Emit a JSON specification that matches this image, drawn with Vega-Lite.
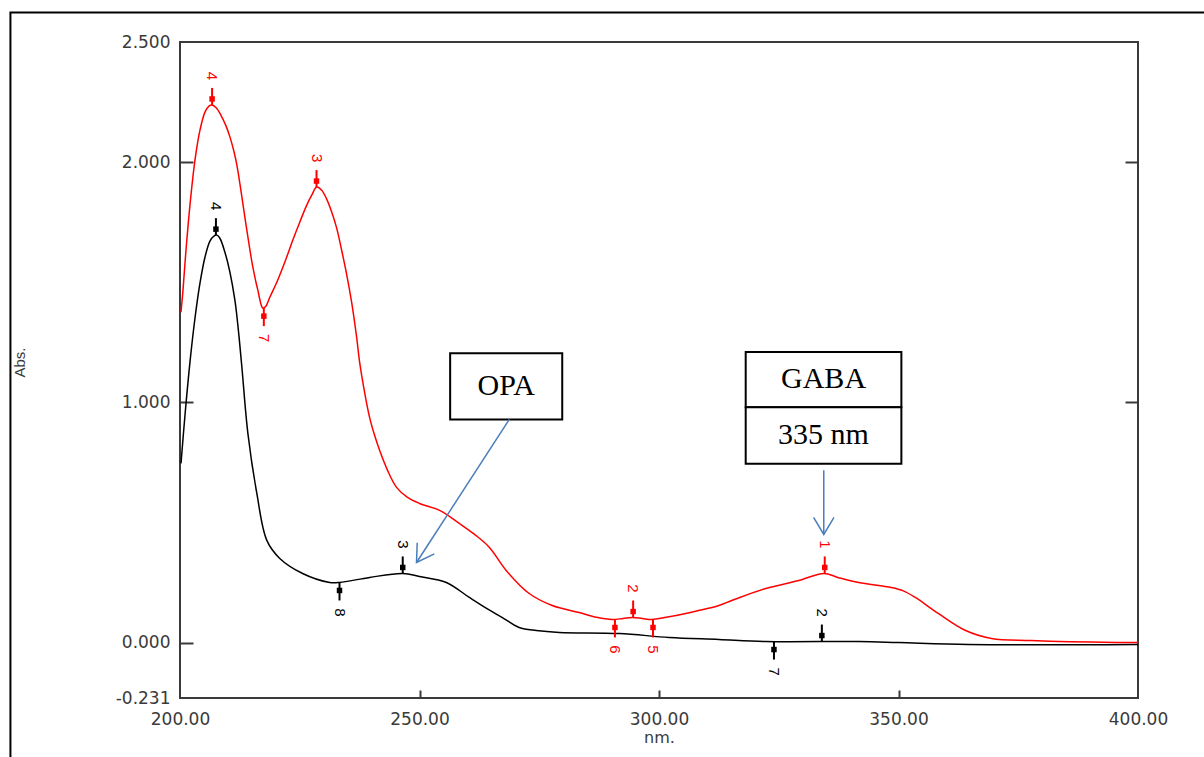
{
  "$schema": "https://vega.github.io/schema/vega-lite/v6.json",
  "width": 958,
  "height": 656,
  "autosize": {"type": "none"},
  "padding": {"left": 180, "top": 42, "right": 66, "bottom": 59},
  "background": "white",
  "config": {"view": {"stroke": "#3a3a3a", "strokeWidth": 2}},
  "datasets": {
    "spectra": [
      {"s": "red", "nm": 200.21, "abs": 1.375}, {"s": "red", "nm": 200.625, "abs": 1.467}, {"s": "red", "nm": 201.25, "abs": 1.633},
      {"s": "red", "nm": 202.08, "abs": 1.821}, {"s": "red", "nm": 203.125, "abs": 2.008}, {"s": "red", "nm": 204.17, "abs": 2.133},
      {"s": "red", "nm": 205.21, "abs": 2.208}, {"s": "red", "nm": 206.04, "abs": 2.233}, {"s": "red", "nm": 206.67, "abs": 2.2375},
      {"s": "red", "nm": 207.5, "abs": 2.227}, {"s": "red", "nm": 208.5, "abs": 2.197}, {"s": "red", "nm": 209.58, "abs": 2.152},
      {"s": "red", "nm": 210.42, "abs": 2.105}, {"s": "red", "nm": 211.25, "abs": 2.045}, {"s": "red", "nm": 211.875, "abs": 1.9875},
      {"s": "red", "nm": 212.71, "abs": 1.883}, {"s": "red", "nm": 213.54, "abs": 1.771}, {"s": "red", "nm": 214.375, "abs": 1.6625},
      {"s": "red", "nm": 215.21, "abs": 1.5625}, {"s": "red", "nm": 216.25, "abs": 1.467}, {"s": "red", "nm": 217.29, "abs": 1.392},
      {"s": "red", "nm": 217.92, "abs": 1.4}, {"s": "red", "nm": 218.75, "abs": 1.4375}, {"s": "red", "nm": 220.21, "abs": 1.5},
      {"s": "red", "nm": 221.875, "abs": 1.583}, {"s": "red", "nm": 223.54, "abs": 1.675}, {"s": "red", "nm": 225.0, "abs": 1.75},
      {"s": "red", "nm": 226.46, "abs": 1.821}, {"s": "red", "nm": 227.5, "abs": 1.8625}, {"s": "red", "nm": 228.54, "abs": 1.896},
      {"s": "red", "nm": 229.58, "abs": 1.883}, {"s": "red", "nm": 230.625, "abs": 1.846}, {"s": "red", "nm": 231.67, "abs": 1.792},
      {"s": "red", "nm": 232.71, "abs": 1.725}, {"s": "red", "nm": 233.75, "abs": 1.633}, {"s": "red", "nm": 234.79, "abs": 1.533},
      {"s": "red", "nm": 235.83, "abs": 1.4167}, {"s": "red", "nm": 236.875, "abs": 1.271}, {"s": "red", "nm": 237.5, "abs": 1.167},
      {"s": "red", "nm": 238.54, "abs": 1.0417}, {"s": "red", "nm": 239.58, "abs": 0.9375}, {"s": "red", "nm": 240.625, "abs": 0.8625},
      {"s": "red", "nm": 241.67, "abs": 0.8}, {"s": "red", "nm": 243.33, "abs": 0.7167}, {"s": "red", "nm": 245.21, "abs": 0.646},
      {"s": "red", "nm": 247.5, "abs": 0.604}, {"s": "red", "nm": 250.0, "abs": 0.579}, {"s": "red", "nm": 254.2, "abs": 0.55},
      {"s": "red", "nm": 258.3, "abs": 0.496}, {"s": "red", "nm": 261.5, "abs": 0.45}, {"s": "red", "nm": 264.6, "abs": 0.396},
      {"s": "red", "nm": 268.1, "abs": 0.3}, {"s": "red", "nm": 272.9, "abs": 0.204}, {"s": "red", "nm": 277.7, "abs": 0.154},
      {"s": "red", "nm": 283.3, "abs": 0.125}, {"s": "red", "nm": 287.0, "abs": 0.105}, {"s": "red", "nm": 290.2, "abs": 0.096},
      {"s": "red", "nm": 292.5, "abs": 0.10}, {"s": "red", "nm": 294.4, "abs": 0.104}, {"s": "red", "nm": 296.5, "abs": 0.10},
      {"s": "red", "nm": 298.5, "abs": 0.096}, {"s": "red", "nm": 301.5, "abs": 0.105}, {"s": "red", "nm": 305.6, "abs": 0.121},
      {"s": "red", "nm": 312.5, "abs": 0.154}, {"s": "red", "nm": 315.2, "abs": 0.175}, {"s": "red", "nm": 322.3, "abs": 0.225},
      {"s": "red", "nm": 329.2, "abs": 0.258}, {"s": "red", "nm": 334.4, "abs": 0.2875}, {"s": "red", "nm": 337.5, "abs": 0.27},
      {"s": "red", "nm": 341.7, "abs": 0.25}, {"s": "red", "nm": 348.5, "abs": 0.229}, {"s": "red", "nm": 351.0, "abs": 0.215},
      {"s": "red", "nm": 353.5, "abs": 0.1875}, {"s": "red", "nm": 358.3, "abs": 0.121}, {"s": "red", "nm": 364.0, "abs": 0.05},
      {"s": "red", "nm": 369.4, "abs": 0.017}, {"s": "red", "nm": 377.7, "abs": 0.008}, {"s": "red", "nm": 395.2, "abs": 0.0},
      {"s": "red", "nm": 400.0, "abs": 0.0},
      {"s": "black", "nm": 200.21, "abs": 0.746}, {"s": "black", "nm": 201.04, "abs": 0.946}, {"s": "black", "nm": 202.08, "abs": 1.167},
      {"s": "black", "nm": 203.125, "abs": 1.35}, {"s": "black", "nm": 204.17, "abs": 1.496}, {"s": "black", "nm": 205.21, "abs": 1.604},
      {"s": "black", "nm": 206.25, "abs": 1.671}, {"s": "black", "nm": 207.08, "abs": 1.692}, {"s": "black", "nm": 207.71, "abs": 1.696},
      {"s": "black", "nm": 208.33, "abs": 1.683}, {"s": "black", "nm": 209.375, "abs": 1.625}, {"s": "black", "nm": 210.42, "abs": 1.542},
      {"s": "black", "nm": 211.46, "abs": 1.425}, {"s": "black", "nm": 212.08, "abs": 1.321}, {"s": "black", "nm": 212.92, "abs": 1.146},
      {"s": "black", "nm": 214.17, "abs": 0.871}, {"s": "black", "nm": 216.04, "abs": 0.621}, {"s": "black", "nm": 218.125, "abs": 0.425},
      {"s": "black", "nm": 220.83, "abs": 0.35}, {"s": "black", "nm": 225.6, "abs": 0.2875}, {"s": "black", "nm": 231.25, "abs": 0.25},
      {"s": "black", "nm": 233.3, "abs": 0.25}, {"s": "black", "nm": 239.6, "abs": 0.271}, {"s": "black", "nm": 246.5, "abs": 0.2875},
      {"s": "black", "nm": 250.0, "abs": 0.275}, {"s": "black", "nm": 255.6, "abs": 0.25}, {"s": "black", "nm": 260.4, "abs": 0.1875},
      {"s": "black", "nm": 264.0, "abs": 0.142}, {"s": "black", "nm": 267.3, "abs": 0.104}, {"s": "black", "nm": 270.8, "abs": 0.0625},
      {"s": "black", "nm": 274.4, "abs": 0.05}, {"s": "black", "nm": 279.2, "abs": 0.042}, {"s": "black", "nm": 291.7, "abs": 0.0375},
      {"s": "black", "nm": 302.1, "abs": 0.021}, {"s": "black", "nm": 312.5, "abs": 0.0125}, {"s": "black", "nm": 322.3, "abs": 0.004},
      {"s": "black", "nm": 341.7, "abs": 0.004}, {"s": "black", "nm": 350.0, "abs": 0.0}, {"s": "black", "nm": 364.6, "abs": -0.008},
      {"s": "black", "nm": 400.0, "abs": -0.008}
    ],
    "markers": [
      {"s": "red", "nm": 206.7, "abs": 2.238, "lab": "4", "dir": "up"},
      {"s": "red", "nm": 217.5, "abs": 1.392, "lab": "7", "dir": "down"},
      {"s": "red", "nm": 228.5, "abs": 1.896, "lab": "3", "dir": "up"},
      {"s": "red", "nm": 290.8, "abs": 0.096, "lab": "6", "dir": "down"},
      {"s": "red", "nm": 294.6, "abs": 0.104, "lab": "2", "dir": "up"},
      {"s": "red", "nm": 298.75, "abs": 0.096, "lab": "5", "dir": "down"},
      {"s": "red", "nm": 334.6, "abs": 0.2875, "lab": "1", "dir": "up"},
      {"s": "black", "nm": 207.5, "abs": 1.696, "lab": "4", "dir": "up"},
      {"s": "black", "nm": 233.3, "abs": 0.25, "lab": "8", "dir": "down"},
      {"s": "black", "nm": 246.5, "abs": 0.2875, "lab": "3", "dir": "up"},
      {"s": "black", "nm": 324.0, "abs": 0.004, "lab": "7", "dir": "down"},
      {"s": "black", "nm": 334.0, "abs": 0.004, "lab": "2", "dir": "up"}
    ],
    "frame": [{"x1": 164.6, "x2": 425, "y1": 2.623, "y2": -0.7}],
    "boxes": [
      {"name": "OPA", "x1": 256.4, "x2": 279.8, "y1": 0.928, "y2": 1.204},
      {"name": "GABA", "x1": 318.1, "x2": 350.6, "y1": 0.979, "y2": 1.2096},
      {"name": "GABA2", "x1": 318.1, "x2": 350.6, "y1": 0.7446, "y2": 0.979}
    ],
    "boxtext": [
      {"text": "OPA", "nm": 268.1, "abs": 1.066},
      {"text": "GABA", "nm": 334.35, "abs": 1.096},
      {"text": "335 nm", "nm": 334.35, "abs": 0.8625}
    ],
    "arrows": [
      {"name": "OPA", "x1": 268.75, "y1": 0.929, "x2": 249.375, "y2": 0.333},
      {"name": "GABA", "x1": 334.4, "y1": 0.717, "x2": 334.4, "y2": 0.45}
    ]
  },
  "resolve": {"scale": {"x": "shared", "y": "shared", "color": "shared"}, "axis": {"y": "independent"}},
  "layer": [
    {
      "data": {"name": "frame"},
      "mark": {"type": "rect", "fillOpacity": 0, "stroke": "#000000", "strokeWidth": 2},
      "encoding": {
        "x": {"field": "x1", "type": "quantitative"},
        "x2": {"field": "x2"},
        "y": {"field": "y1", "type": "quantitative", "axis": null},
        "y2": {"field": "y2"}
      }
    },
    {
      "data": {"name": "spectra"},
      "mark": {"type": "line", "strokeWidth": 1.5, "interpolate": "catmull-rom"},
      "encoding": {
        "x": {
          "field": "nm", "type": "quantitative",
          "scale": {"domain": [200, 400], "nice": false, "zero": false},
          "axis": {
            "orient": "bottom", "values": [200, 250, 300, 350, 400], "format": ".2f",
            "title": "nm.", "grid": false, "domain": false,
            "tickSize": -8, "tickColor": "#3a3a3a", "tickWidth": 2,
            "tickOpacity": {"condition": {"test": "datum.value <= 200 || datum.value >= 400", "value": 0}, "value": 1},
            "labelPadding": 21, "labelFont": "DejaVu Sans", "labelFontSize": 17, "labelColor": "#3a3a3a",
            "labelFlush": false, "labelOverlap": false,
            "titleFont": "DejaVu Sans", "titleFontSize": 16, "titleFontWeight": "normal", "titleColor": "#3a3a3a", "titlePadding": 2
          }
        },
        "y": {
          "field": "abs", "type": "quantitative",
          "scale": {"domain": [-0.231, 2.5], "nice": false, "zero": false},
          "axis": {
            "orient": "left", "values": [2.5, 2, 1, 0, -0.231],
            "labelExpr": "replace(format(datum.value, '.3f'), '\u2212', '-')",
            "title": "Abs.", "grid": false, "domain": false,
            "tickSize": -13, "tickColor": "#3a3a3a", "tickWidth": 2,
            "tickOpacity": {"condition": {"test": "datum.value > 2.4 || datum.value < -0.1", "value": 0}, "value": 1},
            "labelPadding": 23, "labelFont": "DejaVu Sans", "labelFontSize": 17, "labelColor": "#3a3a3a", "labelOverlap": false,
            "titleFont": "Liberation Sans", "titleFontSize": 15, "titleFontWeight": "normal", "titleColor": "#3a3a3a",
            "titleX": -153, "titleY": 320
          }
        },
        "color": {"field": "s", "type": "nominal", "scale": {"domain": ["red", "black"], "range": ["#ff0000", "#000000"]}, "legend": null}
      }
    },
    {
      "data": {"name": "markers"},
      "transform": [{"filter": "datum.dir == 'up'"}],
      "mark": {"type": "rule", "strokeWidth": 2, "y2Offset": -17},
      "encoding": {
        "x": {"field": "nm", "type": "quantitative"},
        "y": {
          "field": "abs", "type": "quantitative",
          "axis": {"orient": "right", "values": [2, 1], "labels": false, "title": null, "domain": false, "grid": false,
                   "tickSize": -13, "tickColor": "#3a3a3a", "tickWidth": 2}
        },
        "y2": {"field": "abs"},
        "color": {"field": "s", "type": "nominal", "legend": null}
      }
    },
    {
      "data": {"name": "markers"},
      "transform": [{"filter": "datum.dir == 'down'"}],
      "mark": {"type": "rule", "strokeWidth": 2, "y2Offset": 18},
      "encoding": {
        "x": {"field": "nm", "type": "quantitative"},
        "y": {"field": "abs", "type": "quantitative", "axis": null},
        "y2": {"field": "abs"},
        "color": {"field": "s", "type": "nominal", "legend": null}
      }
    },
    {
      "data": {"name": "markers"},
      "transform": [{"filter": "datum.dir == 'up'"}],
      "mark": {"type": "point", "shape": "square", "filled": true, "size": 30, "opacity": 1, "yOffset": -6},
      "encoding": {
        "x": {"field": "nm", "type": "quantitative"},
        "y": {"field": "abs", "type": "quantitative", "axis": null},
        "color": {"field": "s", "type": "nominal", "legend": null}
      }
    },
    {
      "data": {"name": "markers"},
      "transform": [{"filter": "datum.dir == 'down'"}],
      "mark": {"type": "point", "shape": "square", "filled": true, "size": 30, "opacity": 1, "yOffset": 8},
      "encoding": {
        "x": {"field": "nm", "type": "quantitative"},
        "y": {"field": "abs", "type": "quantitative", "axis": null},
        "color": {"field": "s", "type": "nominal", "legend": null}
      }
    },
    {
      "data": {"name": "markers"},
      "transform": [{"filter": "datum.dir == 'up'"}],
      "mark": {"type": "text", "angle": 90, "font": "Liberation Sans", "fontSize": 15, "align": "center", "baseline": "middle", "yOffset": -29},
      "encoding": {
        "x": {"field": "nm", "type": "quantitative"},
        "y": {"field": "abs", "type": "quantitative", "axis": null},
        "text": {"field": "lab"},
        "color": {"field": "s", "type": "nominal", "legend": null}
      }
    },
    {
      "data": {"name": "markers"},
      "transform": [{"filter": "datum.dir == 'down'"}],
      "mark": {"type": "text", "angle": 90, "font": "Liberation Sans", "fontSize": 15, "align": "center", "baseline": "middle", "yOffset": 30},
      "encoding": {
        "x": {"field": "nm", "type": "quantitative"},
        "y": {"field": "abs", "type": "quantitative", "axis": null},
        "text": {"field": "lab"},
        "color": {"field": "s", "type": "nominal", "legend": null}
      }
    },
    {
      "data": {"name": "boxes"},
      "mark": {"type": "rect", "fill": "#ffffff", "stroke": "#000000", "strokeWidth": 2},
      "encoding": {
        "x": {"field": "x1", "type": "quantitative"},
        "x2": {"field": "x2"},
        "y": {"field": "y1", "type": "quantitative", "axis": null},
        "y2": {"field": "y2"}
      }
    },
    {
      "data": {"name": "boxtext"},
      "mark": {"type": "text", "font": "Liberation Serif", "fontSize": 30, "color": "#000000", "align": "center", "baseline": "middle"},
      "encoding": {
        "x": {"field": "nm", "type": "quantitative"},
        "y": {"field": "abs", "type": "quantitative", "axis": null},
        "text": {"field": "text"}
      }
    },
    {
      "data": {"name": "arrows"},
      "mark": {"type": "rule", "color": "#4a7ebb", "strokeWidth": 1.5},
      "encoding": {
        "x": {"field": "x1", "type": "quantitative"},
        "y": {"field": "y1", "type": "quantitative", "axis": null},
        "x2": {"field": "x2"},
        "y2": {"field": "y2"}
      }
    },
    {
      "data": {"name": "arrows"},
      "transform": [{"filter": "datum.name == 'OPA'"}],
      "mark": {"type": "point", "shape": "M-0.6,-1L0,0L0.6,-1", "size": 1156, "filled": false, "opacity": 1, "color": "#4a7ebb", "strokeWidth": 1.5, "angle": 33},
      "encoding": {
        "x": {"field": "x2", "type": "quantitative"},
        "y": {"field": "y2", "type": "quantitative", "axis": null}
      }
    },
    {
      "data": {"name": "arrows"},
      "transform": [{"filter": "datum.name == 'GABA'"}],
      "mark": {"type": "point", "shape": "M-0.6,-1L0,0L0.6,-1", "size": 1156, "filled": false, "opacity": 1, "color": "#4a7ebb", "strokeWidth": 1.5, "angle": 0},
      "encoding": {
        "x": {"field": "x2", "type": "quantitative"},
        "y": {"field": "y2", "type": "quantitative", "axis": null}
      }
    }
  ]
}
